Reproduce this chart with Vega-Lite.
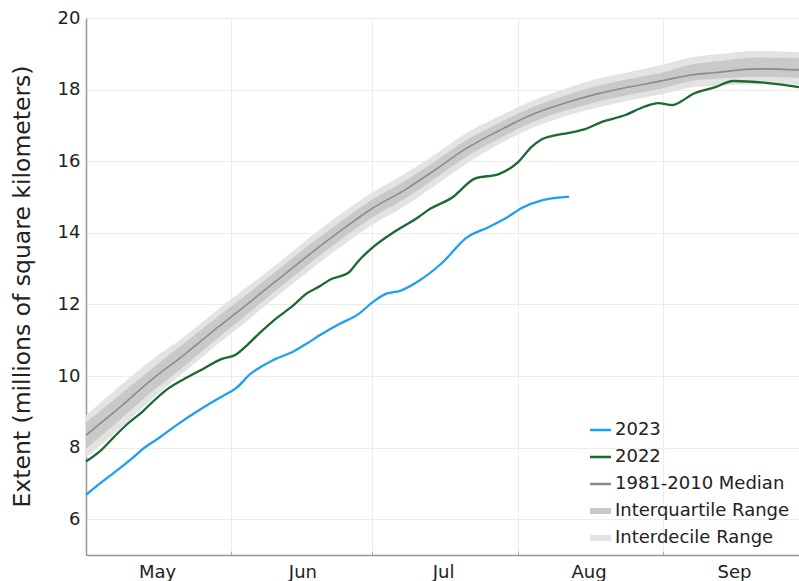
{
  "$schema": "https://vega.github.io/schema/vega-lite/v6.json",
  "width": 713,
  "height": 537,
  "autosize": {"type": "none"},
  "padding": {"left": 86, "top": 18, "right": 0, "bottom": 26},
  "background": "white",
  "config": {"view": {"stroke": null}, "font": "DejaVu Sans"},
  "datasets": {
    "clim": [
      {"date": "2023-05-01", "median": 8.35, "iq_lo": 7.97, "iq_hi": 8.7, "id_lo": 7.72, "id_hi": 8.9},
      {"date": "2023-05-08", "median": 9.1, "iq_lo": 8.75, "iq_hi": 9.45, "id_lo": 8.5, "id_hi": 9.7},
      {"date": "2023-05-15", "median": 9.9, "iq_lo": 9.55, "iq_hi": 10.2, "id_lo": 9.35, "id_hi": 10.45},
      {"date": "2023-05-22", "median": 10.6, "iq_lo": 10.28, "iq_hi": 10.92, "id_lo": 10.12, "id_hi": 11.1},
      {"date": "2023-05-29", "median": 11.35, "iq_lo": 11.05, "iq_hi": 11.65, "id_lo": 10.88, "id_hi": 11.85},
      {"date": "2023-06-03", "median": 11.86, "iq_lo": 11.58, "iq_hi": 12.15, "id_lo": 11.4, "id_hi": 12.35},
      {"date": "2023-06-10", "median": 12.6, "iq_lo": 12.33, "iq_hi": 12.87, "id_lo": 12.15, "id_hi": 13.05},
      {"date": "2023-06-17", "median": 13.33, "iq_lo": 13.07, "iq_hi": 13.6, "id_lo": 12.88, "id_hi": 13.8},
      {"date": "2023-06-24", "median": 14.03, "iq_lo": 13.78, "iq_hi": 14.28, "id_lo": 13.58, "id_hi": 14.5},
      {"date": "2023-07-01", "median": 14.68, "iq_lo": 14.43, "iq_hi": 14.93, "id_lo": 14.22, "id_hi": 15.12},
      {"date": "2023-07-08", "median": 15.2, "iq_lo": 14.95, "iq_hi": 15.45, "id_lo": 14.75, "id_hi": 15.65},
      {"date": "2023-07-14", "median": 15.72, "iq_lo": 15.48, "iq_hi": 15.96, "id_lo": 15.28, "id_hi": 16.15},
      {"date": "2023-07-21", "median": 16.35, "iq_lo": 16.12, "iq_hi": 16.58, "id_lo": 15.92, "id_hi": 16.78},
      {"date": "2023-07-28", "median": 16.85, "iq_lo": 16.63, "iq_hi": 17.06, "id_lo": 16.47, "id_hi": 17.25},
      {"date": "2023-08-04", "median": 17.3, "iq_lo": 17.08, "iq_hi": 17.5, "id_lo": 16.92, "id_hi": 17.68},
      {"date": "2023-08-11", "median": 17.62, "iq_lo": 17.4, "iq_hi": 17.83, "id_lo": 17.25, "id_hi": 18.02},
      {"date": "2023-08-18", "median": 17.88, "iq_lo": 17.66, "iq_hi": 18.1, "id_lo": 17.5, "id_hi": 18.3},
      {"date": "2023-08-25", "median": 18.08, "iq_lo": 17.86, "iq_hi": 18.3, "id_lo": 17.7, "id_hi": 18.5},
      {"date": "2023-09-01", "median": 18.25, "iq_lo": 18.04, "iq_hi": 18.48, "id_lo": 17.88, "id_hi": 18.7},
      {"date": "2023-09-07", "median": 18.41, "iq_lo": 18.24, "iq_hi": 18.7, "id_lo": 18.06, "id_hi": 18.9},
      {"date": "2023-09-12", "median": 18.47, "iq_lo": 18.3, "iq_hi": 18.78, "id_lo": 18.1, "id_hi": 18.98},
      {"date": "2023-09-21", "median": 18.58, "iq_lo": 18.36, "iq_hi": 18.9, "id_lo": 18.15, "id_hi": 19.08},
      {"date": "2023-09-30", "median": 18.55, "iq_lo": 18.33, "iq_hi": 18.88, "id_lo": 18.13, "id_hi": 19.05}
    ],
    "lines": [
      {"series": "2022", "date": "2023-05-01", "extent": 7.61},
      {"series": "2022", "date": "2023-05-04", "extent": 7.9},
      {"series": "2022", "date": "2023-05-07", "extent": 8.3},
      {"series": "2022", "date": "2023-05-10", "extent": 8.68},
      {"series": "2022", "date": "2023-05-13", "extent": 9.0},
      {"series": "2022", "date": "2023-05-15", "extent": 9.25},
      {"series": "2022", "date": "2023-05-18", "extent": 9.6},
      {"series": "2022", "date": "2023-05-22", "extent": 9.92},
      {"series": "2022", "date": "2023-05-25", "extent": 10.13},
      {"series": "2022", "date": "2023-05-30", "extent": 10.48},
      {"series": "2022", "date": "2023-06-02", "extent": 10.6},
      {"series": "2022", "date": "2023-06-04", "extent": 10.82},
      {"series": "2022", "date": "2023-06-07", "extent": 11.2},
      {"series": "2022", "date": "2023-06-10", "extent": 11.55},
      {"series": "2022", "date": "2023-06-14", "extent": 11.95},
      {"series": "2022", "date": "2023-06-17", "extent": 12.3},
      {"series": "2022", "date": "2023-06-20", "extent": 12.52},
      {"series": "2022", "date": "2023-06-22", "extent": 12.69},
      {"series": "2022", "date": "2023-06-26", "extent": 12.89},
      {"series": "2022", "date": "2023-06-28", "extent": 13.2},
      {"series": "2022", "date": "2023-07-01", "extent": 13.58},
      {"series": "2022", "date": "2023-07-06", "extent": 14.05},
      {"series": "2022", "date": "2023-07-11", "extent": 14.45},
      {"series": "2022", "date": "2023-07-13", "extent": 14.64},
      {"series": "2022", "date": "2023-07-18", "extent": 14.98},
      {"series": "2022", "date": "2023-07-23", "extent": 15.52},
      {"series": "2022", "date": "2023-07-28", "extent": 15.64},
      {"series": "2022", "date": "2023-08-01", "extent": 15.96},
      {"series": "2022", "date": "2023-08-04", "extent": 16.4},
      {"series": "2022", "date": "2023-08-06", "extent": 16.6},
      {"series": "2022", "date": "2023-08-09", "extent": 16.72},
      {"series": "2022", "date": "2023-08-12", "extent": 16.79},
      {"series": "2022", "date": "2023-08-15", "extent": 16.88},
      {"series": "2022", "date": "2023-08-19", "extent": 17.1},
      {"series": "2022", "date": "2023-08-24", "extent": 17.29},
      {"series": "2022", "date": "2023-08-28", "extent": 17.52},
      {"series": "2022", "date": "2023-08-31", "extent": 17.62},
      {"series": "2022", "date": "2023-09-03", "extent": 17.57},
      {"series": "2022", "date": "2023-09-05", "extent": 17.68},
      {"series": "2022", "date": "2023-09-07", "extent": 17.85},
      {"series": "2022", "date": "2023-09-12", "extent": 18.06},
      {"series": "2022", "date": "2023-09-16", "extent": 18.24},
      {"series": "2022", "date": "2023-09-23", "extent": 18.19},
      {"series": "2022", "date": "2023-09-30", "extent": 18.07},
      {"series": "2023", "date": "2023-05-01", "extent": 6.68},
      {"series": "2023", "date": "2023-05-04", "extent": 7.0},
      {"series": "2023", "date": "2023-05-07", "extent": 7.3},
      {"series": "2023", "date": "2023-05-11", "extent": 7.72},
      {"series": "2023", "date": "2023-05-13", "extent": 7.95},
      {"series": "2023", "date": "2023-05-17", "extent": 8.31},
      {"series": "2023", "date": "2023-05-20", "extent": 8.6},
      {"series": "2023", "date": "2023-05-26", "extent": 9.12},
      {"series": "2023", "date": "2023-05-30", "extent": 9.43},
      {"series": "2023", "date": "2023-06-02", "extent": 9.66},
      {"series": "2023", "date": "2023-06-05", "extent": 10.05},
      {"series": "2023", "date": "2023-06-10", "extent": 10.45},
      {"series": "2023", "date": "2023-06-14", "extent": 10.67},
      {"series": "2023", "date": "2023-06-17", "extent": 10.9},
      {"series": "2023", "date": "2023-06-20", "extent": 11.15},
      {"series": "2023", "date": "2023-06-24", "extent": 11.45},
      {"series": "2023", "date": "2023-06-28", "extent": 11.72},
      {"series": "2023", "date": "2023-07-01", "extent": 12.05},
      {"series": "2023", "date": "2023-07-04", "extent": 12.3},
      {"series": "2023", "date": "2023-07-07", "extent": 12.38},
      {"series": "2023", "date": "2023-07-11", "extent": 12.66},
      {"series": "2023", "date": "2023-07-16", "extent": 13.17},
      {"series": "2023", "date": "2023-07-21", "extent": 13.85},
      {"series": "2023", "date": "2023-07-26", "extent": 14.17},
      {"series": "2023", "date": "2023-07-30", "extent": 14.45},
      {"series": "2023", "date": "2023-08-02", "extent": 14.7},
      {"series": "2023", "date": "2023-08-06", "extent": 14.9},
      {"series": "2023", "date": "2023-08-09", "extent": 14.97},
      {"series": "2023", "date": "2023-08-12", "extent": 15.01}
    ]
  },
  "encoding": {
    "x": {
      "field": "date",
      "type": "temporal",
      "scale": {
        "type": "utc",
        "domain": [
          {"year": 2023, "month": 5, "date": 1, "utc": true},
          {"year": 2023, "month": 9, "date": 30, "utc": true}
        ]
      },
      "axis": {
        "title": null,
        "values": [
          {"year": 2023, "month": 5, "date": 1, "utc": true},
          {"year": 2023, "month": 6, "date": 1, "utc": true},
          {"year": 2023, "month": 7, "date": 1, "utc": true},
          {"year": 2023, "month": 8, "date": 1, "utc": true},
          {"year": 2023, "month": 9, "date": 1, "utc": true}
        ],
        "format": "%b",
        "labelOffset": 71,
        "labelFontSize": 18,
        "labelColor": "#222",
        "labelPadding": 12,
        "labelFlush": false,
        "labelOverlap": false,
        "grid": true,
        "gridColor": "#ececec",
        "domainColor": "#999",
        "domainWidth": 1.5,
        "tickColor": "#aaa",
        "tickSize": -4
      }
    }
  },
  "layer": [
    {
      "data": {"name": "clim"},
      "mark": {"type": "area", "opacity": 1, "interpolate": "monotone"},
      "encoding": {
        "y": {"field": "id_lo", "type": "quantitative"},
        "y2": {"field": "id_hi"},
        "color": {"datum": "Interdecile Range", "type": "nominal"}
      }
    },
    {
      "data": {"name": "clim"},
      "mark": {"type": "area", "opacity": 1, "interpolate": "monotone"},
      "encoding": {
        "y": {"field": "iq_lo", "type": "quantitative"},
        "y2": {"field": "iq_hi"},
        "color": {"datum": "Interquartile Range", "type": "nominal"}
      }
    },
    {
      "data": {"name": "clim"},
      "mark": {"type": "line", "strokeWidth": 1.6, "interpolate": "monotone"},
      "encoding": {
        "y": {"field": "median", "type": "quantitative"},
        "color": {"datum": "1981-2010 Median", "type": "nominal"}
      }
    },
    {
      "data": {"name": "lines"},
      "mark": {"type": "line", "strokeWidth": 2.3, "interpolate": "monotone"},
      "encoding": {
        "y": {
          "field": "extent",
          "type": "quantitative",
          "scale": {"domain": [5, 20], "nice": false, "zero": false},
          "axis": {
            "title": "Extent (millions of square kilometers)",
            "values": [6, 8, 10, 12, 14, 16, 18, 20],
            "ticks": false,
            "labelFontSize": 18,
            "labelColor": "#222",
            "labelPadding": 6,
            "grid": true,
            "gridColor": "#ececec",
            "domainColor": "#999",
            "domainWidth": 1.5,
            "titleFontSize": 23.5,
            "titleFontWeight": "normal",
            "titleColor": "#222",
            "titleX": -64,
            "titleY": 268,
            "titleBaseline": "middle",
            "titleAlign": "center"
          }
        },
        "color": {
          "field": "series",
          "type": "nominal",
          "scale": {
            "domain": ["2023", "2022", "1981-2010 Median", "Interquartile Range", "Interdecile Range"],
            "range": ["#1f9ff2", "#1b6a31", "#8c8c8c", "#c9c9c9", "#e3e3e3"]
          },
          "legend": {
            "orient": "none",
            "legendX": 504,
            "legendY": 400,
            "title": null,
            "symbolType": "stroke",
            "symbolSize": 576,
            "clipHeight": 24,
            "labelFontSize": 18,
            "labelColor": "#222",
            "labelOffset": 7,
            "labelLimit": 300,
            "rowPadding": 3,
            "encode": {
              "symbols": {
                "update": {
                  "stroke": {"scale": "color", "field": "value"},
                  "fill": {"value": "transparent"},
                  "opacity": {"value": 1},
                  "strokeWidth": {"signal": "indexof(['Interquartile Range','Interdecile Range'], datum.value) >= 0 ? 6 : 2.5"}
                }
              }
            }
          }
        }
      }
    }
  ]
}
